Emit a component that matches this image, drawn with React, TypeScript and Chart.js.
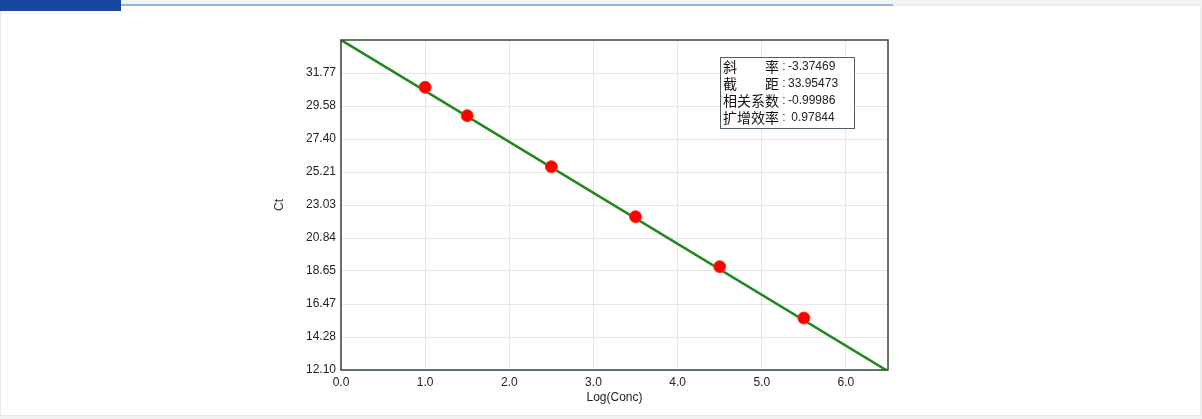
import React, { useEffect, useRef } from "react";
import { Chart, registerables } from "chart.js";

Chart.register(...registerables);

const xValues = [1.0, 1.5, 2.5, 3.5, 4.5, 5.5];
const ctValues = [30.82, 28.94, 25.56, 22.25, 18.94, 15.54];
const slope = -3.37469;
const intercept = 33.95473;
const xMin = 0;
const xMax = 6.5;
const xTickValues = [0, 1, 2, 3, 4, 5, 6];
const yMin = 12.1;
const yMax = 33.95;
const yTickLabels = ["12.10", "14.28", "16.47", "18.65", "20.84", "23.03", "25.21", "27.40", "29.58", "31.77"];
const statLabels = ["斜\u3000\u3000率", "截\u3000\u3000距", "相关系数", "扩增效率"];
const statValues = ["-3.37469", "33.95473", "-0.99986", " 0.97844"];

const borderPlugin = {
  id: "plotBorder",
  afterDraw(chart: any) {
    const { ctx, chartArea } = chart;
    ctx.save();
    ctx.strokeStyle = "#2c4a2c";
    ctx.lineWidth = 1.5;
    ctx.strokeRect(chartArea.left, chartArea.top, chartArea.right - chartArea.left, chartArea.bottom - chartArea.top);
    ctx.restore();
  },
};

export default function App() {
  const ref = useRef<HTMLCanvasElement>(null);
  useEffect(() => {
    document.body.style.margin = "0";
    const step = (yMax - yMin) / 10;
    const chart = new Chart(ref.current!, {
      type: "scatter",
      data: {
        datasets: [
          {
            type: "line",
            data: [
              { x: xMin, y: intercept + slope * xMin },
              { x: xMax, y: intercept + slope * xMax },
            ],
            borderColor: "#1e8a1e",
            borderWidth: 2.5,
            pointRadius: 0,
            fill: false,
            order: 2,
          } as any,
          {
            data: xValues.map((x, i) => ({ x, y: ctValues[i] })),
            backgroundColor: "#ff0000",
            borderColor: "#f23a10",
            borderWidth: 1,
            pointRadius: 6,
            order: 1,
          },
        ],
      },
      options: {
        animation: false,
        responsive: false,
        maintainAspectRatio: false,
        layout: { padding: { left: 18, top: 20, right: 62, bottom: 6 } },
        plugins: { legend: { display: false }, tooltip: { enabled: false } },
        scales: {
          x: {
            type: "linear",
            min: xMin,
            max: xMax,
            afterBuildTicks: (s: any) => {
              s.ticks = xTickValues.map((v) => ({ value: v }));
            },
            afterFit: (s: any) => {
              s.height = 39;
            },
            grid: { color: "#e6e6e6", drawTicks: false },
            border: { display: false },
            ticks: {
              padding: 5,
              color: "#222",
              font: { family: "Liberation Sans", size: 12 },
              callback: (v: any) => Number(v).toFixed(1),
              maxRotation: 0,
            },
            title: {
              display: true,
              text: "Log(Conc)",
              color: "#222",
              font: { family: "Liberation Sans", size: 12 },
              padding: 4,
            },
          },
          y: {
            type: "linear",
            min: yMin,
            max: yMax,
            afterBuildTicks: (s: any) => {
              s.ticks = yTickLabels.map((_, i) => ({ value: yMin + i * step }));
            },
            afterFit: (s: any) => {
              s.width = 73;
            },
            grid: { color: "#e6e6e6", drawTicks: false },
            border: { display: false },
            ticks: {
              padding: 5,
              color: "#222",
              font: { family: "Liberation Sans", size: 12 },
              callback: (_v: any, i: number) => yTickLabels[i],
            },
            title: {
              display: true,
              text: "Ct",
              color: "#333",
              font: { family: "Liberation Sans", size: 12 },
              padding: 4,
            },
          },
        },
      },
      plugins: [borderPlugin],
    } as any);
    return () => chart.destroy();
  }, []);

  return (
    <div style={{ position: "relative", width: 1202, height: 419, background: "#f1f2f4", overflow: "hidden" }}>
      <div
        style={{
          position: "absolute",
          left: 0,
          top: 5,
          width: 1199,
          height: 409,
          background: "#ffffff",
          border: "1px solid #e6e8ea",
        }}
      />
      <div style={{ position: "absolute", left: 0, top: 0, width: 121, height: 11, background: "#1b469f" }} />
      <div style={{ position: "absolute", left: 121, top: 4, width: 772, height: 2, background: "#8fb6e6" }} />
      <canvas
        ref={ref}
        width={700}
        height={395}
        style={{ position: "absolute", left: 250, top: 20, width: 700, height: 395 }}
      />
      <div
        style={{
          position: "absolute",
          left: 720,
          top: 57,
          width: 131,
          height: 70,
          background: "#ffffff",
          border: "1.5px solid #4f6450",
          padding: "0 0 0 2px",
          boxSizing: "content-box",
        }}
      >
        {statLabels.map((l, i) => (
          <div key={i} style={{ display: "flex", alignItems: "center", height: 17, lineHeight: "17px", whiteSpace: "pre" }}>
            <span style={{ fontFamily: "'Noto Sans CJK SC'", fontSize: 14, color: "#111", width: 57, display: "inline-block" }}>{l}</span>
            <span style={{ fontFamily: "'Liberation Sans'", fontSize: 12, color: "#333", width: 8, textAlign: "center" }}>:</span>
            <span style={{ fontFamily: "'Liberation Sans'", fontSize: 12, color: "#222" }}>{statValues[i]}</span>
          </div>
        ))}
      </div>
    </div>
  );
}
